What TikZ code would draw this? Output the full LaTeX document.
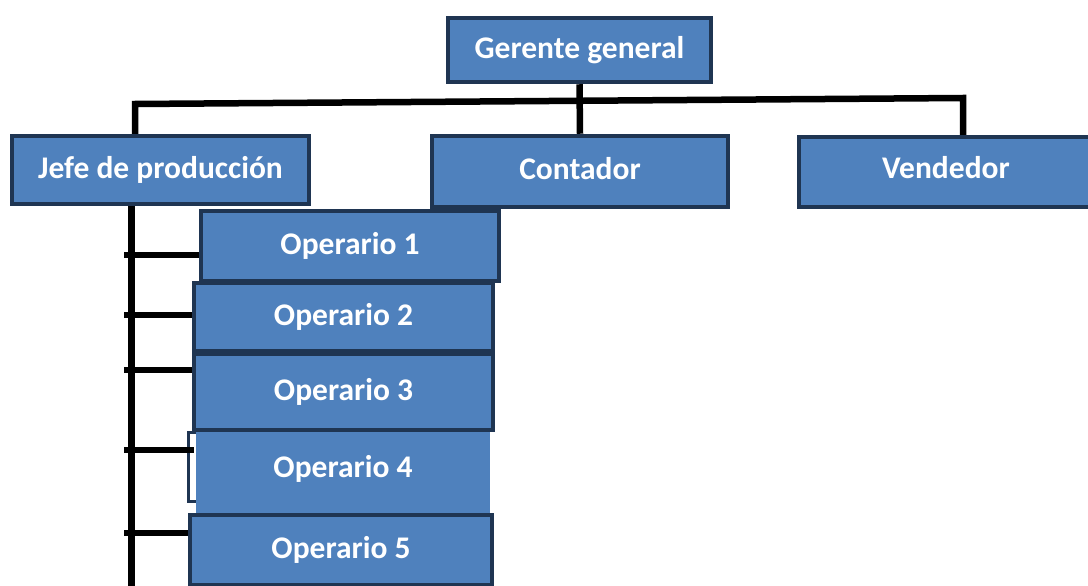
\documentclass[tikz,border=0pt]{standalone}
\usepackage{fontspec}
\setmainfont{Carlito}
\definecolor{boxfill}{HTML}{4F81BD}
\definecolor{boxline}{HTML}{1F3552}
\begin{document}
\begin{tikzpicture}[x=1pt,y=-1pt,
  orgbox/.style={draw=boxline, line width=4.5pt, fill=boxfill, text=white,
    font=\fontsize{31.5}{33}\selectfont\bfseries, inner sep=0pt, anchor=center},
  conn/.style={draw=black, line width=6.5pt}]
\useasboundingbox (0,0) rectangle (1088,586);
% top nodes
\node[orgbox, minimum width=263pt, minimum height=64pt] (ger) at (579.5,50) {\raisebox{-3pt}{Gerente general}};
\node[orgbox, minimum width=297pt, minimum height=68pt] (jefe) at (160.5,170) {\raisebox{2pt}{Jefe de producción}};
\node[orgbox, minimum width=296pt, minimum height=71pt] (cont) at (580,171.5) {\raisebox{7pt}{Contador}};
\node[orgbox, minimum width=294pt, minimum height=70pt] (vend) at (946,172) {\raisebox{9pt}{Vendedor}};
% connectors top
\coordinate (lt) at (135,104);
\coordinate (rt) at (963,98);
\draw[conn] (ger.south) -- (cont.north);
\draw[conn] (jefe.north -| lt) -- (lt) -- (rt) -- (vend.north -| rt);
% spine
\coordinate (spb) at (131,590);
\draw[conn, line width=7pt] (jefe.south -| spb) -- (spb);
% operarios
\node[orgbox, minimum width=298pt, minimum height=70pt] (op1) at (350,246) {\raisebox{-3pt}{Operario 1}};
\node[orgbox, minimum width=299pt, minimum height=68pt] (op2) at (343.5,317) {Operario 2};
\node[orgbox, minimum width=299pt, minimum height=76pt] (op3) at (343.5,392) {\raisebox{-5pt}{Operario 3}};
\draw[boxline, line width=3pt] (196,432) -- (188,432) -- (188,501) -- (196,501);
\node[orgbox, draw=none, minimum width=294pt, minimum height=82pt] (op4) at (343,473) {\raisebox{14pt}{Operario 4}};
\node[orgbox, minimum width=302pt, minimum height=70pt] (op5) at (341,550) {\raisebox{1pt}{Operario 5}};
% ties
\foreach \n/\y in {op1/255, op2/315, op3/370, op4/450, op5/533}{
  \draw[conn] (124,\y) -- (\n.west |- 0,\y);
}
\end{tikzpicture}
\end{document}
